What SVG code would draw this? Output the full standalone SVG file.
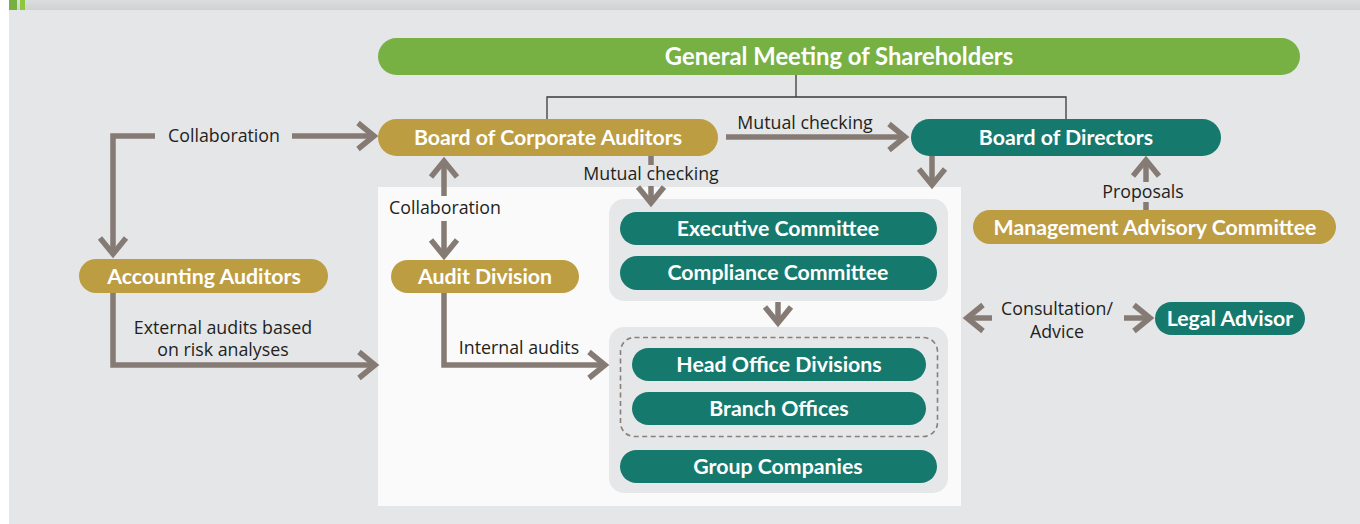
<svg xmlns="http://www.w3.org/2000/svg" width="1360" height="524" viewBox="0 0 1360 524">
<defs>
<linearGradient id="band" x1="0" y1="0" x2="0" y2="1">
<stop offset="0" stop-color="#dcdddf"/><stop offset="1" stop-color="#d0d1d3"/>
</linearGradient>
<marker id="chev" markerUnits="userSpaceOnUse" markerWidth="40" markerHeight="40" refX="0" refY="0" viewBox="-30 -20 40 40" orient="auto" overflow="visible">
<path d="M-16,-13 L0,0 L-16,13" fill="none" stroke="#857b74" stroke-width="5.5" stroke-linejoin="miter" stroke-miterlimit="10"/>
</marker>
</defs>
<style>
.bg{fill:#e5e6e8}
.gold{fill:#bd9d42}
.teal{fill:#16796d}
.green{fill:#77b144}
.grp{fill:#e6e7e9}
.nl{font-family:Lato,"Open Sans",sans-serif;font-weight:bold;font-size:21.3px;fill:#ffffff;text-anchor:middle}
.lbl{font-family:"Open Sans",Lato,sans-serif;font-size:17.8px;fill:#231f20;text-anchor:middle}
.arr{fill:none;stroke:#857b74;stroke-width:5.5}
.tree{fill:none;stroke:#3a3a3a;stroke-width:1.3}
</style>
<rect x="9" y="0" width="1351" height="524" class="bg"/>
<rect x="9" y="0" width="1351" height="10" fill="url(#band)"/>
<rect x="9" y="0" width="8" height="10" fill="#76b043"/>
<rect x="20" y="0" width="5" height="10" fill="#8dc63f"/>
<rect x="378" y="187" width="583" height="319" fill="#fafafa"/>
<rect x="609" y="199" width="339" height="102" rx="15" class="grp"/>
<rect x="609" y="327" width="339" height="166" rx="15" class="grp"/>
<rect x="620.5" y="337.5" width="317" height="99" rx="14" fill="none" stroke="#8a8079" stroke-width="1.6" stroke-dasharray="5,3.5"/>

<g id="connectors">
<path class="tree" d="M796,75 V97 M547,120 V97 H1066 V120"/>
<path class="arr" d="M155,136 H113 V254" marker-end="url(#chev)"/>
<path class="arr" d="M292,136 H374" marker-end="url(#chev)"/>
<path class="arr" d="M113,293 V365 H375" marker-end="url(#chev)"/>
<path class="arr" d="M726,137 H905" marker-end="url(#chev)"/>
<path class="arr" d="M651,156 V165"/>
<path class="arr" d="M651,186 V203" marker-end="url(#chev)"/>
<path class="arr" d="M444,196 V161" marker-end="url(#chev)"/>
<path class="arr" d="M444,221 V256" marker-end="url(#chev)"/>
<path class="arr" d="M444,293 V365 H605" marker-end="url(#chev)"/>
<path class="arr" d="M932,156 V185" marker-end="url(#chev)"/>
<path class="arr" d="M778,302 V323" marker-end="url(#chev)"/>
<path class="arr" d="M1146,182 V160" marker-end="url(#chev)"/>
<path class="arr" d="M1146,202 V210"/>
<path class="arr" d="M992,318 H967" marker-end="url(#chev)"/>
<path class="arr" d="M1124,318 H1150" marker-end="url(#chev)"/>
<text class="lbl" x="224" y="142">Collaboration</text>
<text class="lbl" x="223" y="334">External audits based</text>
<text class="lbl" x="223" y="356">on risk analyses</text>
<text class="lbl" x="805" y="129">Mutual checking</text>
<text class="lbl" x="651" y="180">Mutual checking</text>
<text class="lbl" x="445" y="214">Collaboration</text>
<text class="lbl" x="519" y="354">Internal audits</text>
<text class="lbl" x="1143" y="198">Proposals</text>
<text class="lbl" x="1057" y="315">Consultation/</text>
<text class="lbl" x="1057" y="338">Advice</text>
</g>

<g id="gms"><rect x="378" y="38" width="922" height="37" rx="18.5" class="green"/><text class="nl" x="839" y="65" style="font-size:23.8px">General Meeting of Shareholders</text></g>
<g id="bca"><rect x="378" y="119" width="340" height="37" rx="18.5" class="gold"/><text class="nl" x="548" y="145">Board of Corporate Auditors</text></g>
<g id="bod"><rect x="911" y="119" width="310" height="37" rx="18.5" class="teal"/><text class="nl" x="1066" y="145">Board of Directors</text></g>
<g id="aa"><rect x="79" y="259" width="249" height="34" rx="17" class="gold"/><text class="nl" x="204" y="284">Accounting Auditors</text></g>
<g id="ad"><rect x="391" y="260" width="188" height="33" rx="16.5" class="gold"/><text class="nl" x="485" y="284">Audit Division</text></g>
<g id="mac"><rect x="973" y="210" width="363" height="34" rx="17" class="gold"/><text class="nl" x="1155" y="235">Management Advisory Committee</text></g>
<g id="ec"><rect x="620" y="212" width="317" height="33" rx="16.5" class="teal"/><text class="nl" x="778" y="236">Executive Committee</text></g>
<g id="cc"><rect x="620" y="256" width="317" height="34" rx="17" class="teal"/><text class="nl" x="778" y="280">Compliance Committee</text></g>
<g id="hod"><rect x="632" y="348" width="294" height="33" rx="16.5" class="teal"/><text class="nl" x="779" y="372">Head Office Divisions</text></g>
<g id="bo"><rect x="632" y="392" width="294" height="33" rx="16.5" class="teal"/><text class="nl" x="779" y="416">Branch Offices</text></g>
<g id="gc"><rect x="620" y="450" width="317" height="33" rx="16.5" class="teal"/><text class="nl" x="778" y="474">Group Companies</text></g>
<g id="la"><rect x="1155" y="302" width="150" height="33" rx="16.5" class="teal"/><text class="nl" x="1230" y="326">Legal Advisor</text></g>
</svg>
